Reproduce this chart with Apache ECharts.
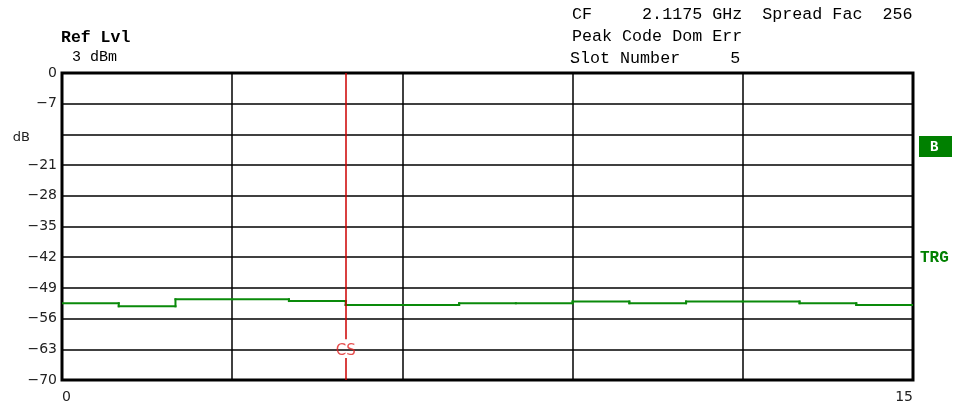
<!DOCTYPE html>
<html>
<head>
<meta charset="utf-8">
<script src="https://cdn.jsdelivr.net/npm/echarts@6/dist/echarts.min.js"></script>
<style>
  html, body { margin: 0; padding: 0; background: #fff; }
  #chart { width: 957px; height: 406px; }
</style>
</head>
<body>
<div id="chart"></div>
<script>
// slot boundaries (x axis) and peak code domain error per slot (dB)
const slots = [0, 1, 2, 3, 4, 5, 6, 7, 8, 9, 10, 11, 12, 13, 14, 15]
const levels = [-52.5, -53.2, -51.6, -51.6, -52.0, -52.9, -52.9, -52.5, -52.5, -52.1, -52.5, -52.1, -52.1, -52.5, -52.9]
const yTicks = [0, -7, -14, -21, -28, -35, -42, -49, -56, -63, -70]
const xTickLabels = ['0', '15']
// current slot marker
const markerSlot = 5
const markerGap = [-60.7, -65.0]
const markerLabelY = -63.4

const headerFont = '"Liberation Mono", "Courier New", monospace'
const tickFont = '"DejaVu Sans", sans-serif'
const traceColor = '#0a8a0a'

// one item per slot: [start, end, level, next level]
const slotData = levels.map((v, i) => [slots[i], slots[i + 1], v, i + 1 < levels.length ? levels[i + 1] : v])

// draw each slot as a flat segment plus the riser to the next slot,
// as separate lines so small risers are not dropped by path simplification
function renderSlot(params, api) {
  const a = api.coord([api.value(0), api.value(2)])
  const b = api.coord([api.value(1), api.value(2)])
  const c = api.coord([api.value(1), api.value(3)])
  const style = { stroke: traceColor, lineWidth: 2, lineCap: 'square' }
  return {
    type: 'group',
    children: [
      { type: 'line', shape: { x1: a[0], y1: a[1], x2: b[0], y2: b[1] }, style: style },
      { type: 'line', shape: { x1: b[0], y1: b[1], x2: c[0], y2: c[1] }, style: style }
    ]
  }
}

const chart = echarts.init(document.getElementById('chart'))
chart.setOption({
  animation: false,
  grid: {
    left: 62,
    right: 44,
    top: 73,
    bottom: 26,
    show: true,
    borderColor: '#000',
    borderWidth: 3,
    backgroundColor: 'transparent'
  },
  xAxis: {
    type: 'value',
    min: 0,
    max: 15,
    interval: 3,
    axisLine: { show: false },
    axisTick: { show: false },
    splitLine: { lineStyle: { color: '#000', width: 1.5 } },
    axisLabel: {
      margin: 10,
      color: '#222',
      fontFamily: tickFont,
      fontSize: 14,
      alignMinLabel: 'left',
      alignMaxLabel: 'right',
      formatter: function(v) {
        return xTickLabels.indexOf(String(v)) >= 0 ? String(v) : ''
      }
    }
  },
  yAxis: {
    type: 'value',
    min: -70,
    max: 0,
    interval: 7,
    axisLine: { show: false },
    axisTick: { show: false },
    splitLine: { lineStyle: { color: '#000', width: 1.5 } },
    axisLabel: {
      margin: 5,
      color: '#222',
      fontFamily: tickFont,
      fontSize: 14,
      formatter: function(v) {
        if (v === yTicks[2]) return '{u|dB}'
        return String(v).replace('-', '\u2212')
      },
      rich: {
        u: { fontFamily: tickFont, fontSize: 13, color: '#222', padding: [6, 27, 0, 0] }
      }
    }
  },
  graphic: [
    { type: 'text', left: 61, top: 29, style: { text: 'Ref Lvl', font: 'bold 16.5px ' + headerFont, fill: '#000' } },
    { type: 'text', left: 72, top: 50, style: { text: '3 dBm', font: '15px ' + headerFont, fill: '#000' } },
    { type: 'text', left: 572, top: 6, style: { text: 'CF     2.1175 GHz  Spread Fac  256', font: '16.7px ' + headerFont, fill: '#000' } },
    { type: 'text', left: 572, top: 28, style: { text: 'Peak Code Dom Err', font: '16.7px ' + headerFont, fill: '#000' } },
    { type: 'text', left: 570, top: 50, style: { text: 'Slot Number     5', font: '16.7px ' + headerFont, fill: '#000' } },
    { type: 'rect', left: 919, top: 136, shape: { width: 33, height: 21 }, style: { fill: '#008000' } },
    { type: 'text', left: 930, top: 140, style: { text: 'B', font: 'bold 14px ' + headerFont, fill: '#fff' } },
    { type: 'text', left: 920, top: 250, style: { text: 'TRG', font: 'bold 16px ' + headerFont, fill: '#008000' } }
  ],
  series: [
    {
      name: 'Peak Code Dom Err',
      type: 'custom',
      data: slotData,
      renderItem: renderSlot,
      encode: { x: [0, 1], y: [2, 3] },
      clip: true,
      z: 3
    },
    {
      name: 'CS',
      type: 'scatter',
      data: [[markerSlot, markerLabelY]],
      symbolSize: 0,
      label: {
        show: true,
        position: 'inside',
        formatter: 'CS',
        color: '#e02020',
        fontFamily: tickFont,
        fontSize: 15
      },
      markLine: {
        silent: true,
        symbol: 'none',
        label: { show: false },
        lineStyle: { color: '#cc0000', width: 1.5, type: 'solid' },
        data: [
          [{ coord: [markerSlot, 0] }, { coord: [markerSlot, markerGap[0]] }],
          [{ coord: [markerSlot, markerGap[1]] }, { coord: [markerSlot, -70] }]
        ]
      },
      z: 4
    }
  ]
})
</script>
</body>
</html>
